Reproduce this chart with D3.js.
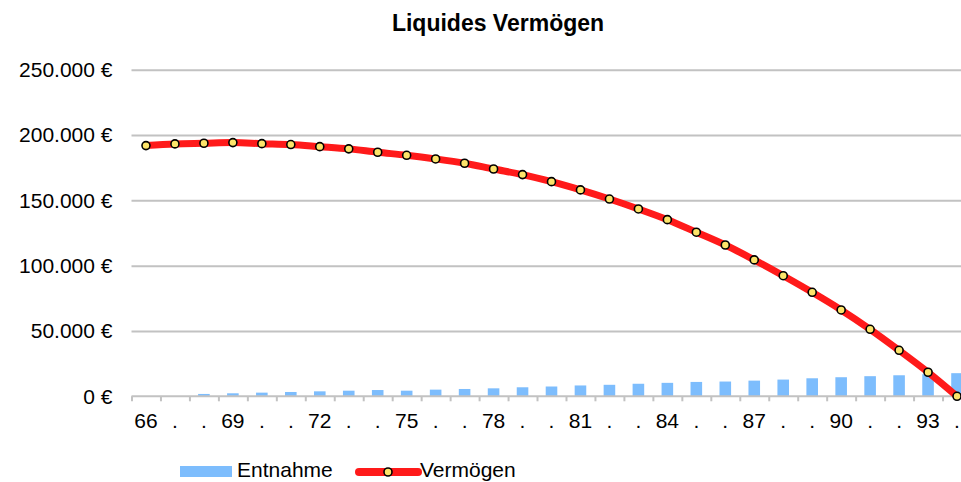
<!DOCTYPE html>
<html>
<head>
<meta charset="utf-8">
<title>Liquides Vermögen</title>
<script src="https://cdn.jsdelivr.net/npm/d3@7"></script>
<style>
 body { margin: 0; background: #fff; }
 svg text { font-family: "Liberation Sans", Arial, sans-serif; fill: #000; }
</style>
</head>
<body>
<svg id="chart" width="961" height="482"></svg>
<script>
// Alter (Jahre)
var jahre = [66, 67, 68, 69, 70, 71, 72, 73, 74, 75, 76, 77, 78, 79, 80,
             81, 82, 83, 84, 85, 86, 87, 88, 89, 90, 91, 92, 93, 94];
var jahrLabels = ["66", ".", ".", "69", ".", ".", "72", ".", ".", "75", ".", ".", "78", ".", ".",
                  "81", ".", ".", "84", ".", ".", "87", ".", ".", "90", ".", ".", "93", "."];
var entnahme = [0, 0, 1800, 2300, 2800, 3300, 3800, 4300, 4800, 4300, 5100, 5600, 6100, 6900, 7500,
                8300, 8800, 9600, 10300, 11000, 11300, 12000, 12800, 13800, 14600, 15400, 16100, 16900, 17700];
var vermoegen = [191900, 193200, 193700, 194200, 193400, 192700, 191100, 189400, 186800, 184500,
                 181700, 178400, 174000, 169700, 164300, 158000, 151000, 143400, 135200, 125600,
                 115800, 104400, 92300, 79600, 66100, 51300, 35200, 18400, 0];
var yTicks = [0, 50000, 100000, 150000, 200000, 250000];

var svg = d3.select("#chart");

var plotL = 131.5, plotR = 971.5, plotT = 69.7, plotB = 396.3;

var x = d3.scaleBand().domain(jahre).range([plotL, plotR]).paddingInner(0.6).paddingOuter(0.3);
var xEdge = d3.scaleLinear().domain([0, jahre.length]).range([plotL, plotR]);
var y = d3.scaleLinear().domain([0, 250000]).range([plotB, plotT]);

var de = d3.formatLocale({decimal: ",", thousands: ".", grouping: [3], currency: ["", " €"]});
var euro = de.format("$,");

// title
svg.append("text")
  .attr("x", 498).attr("y", 31)
  .attr("text-anchor", "middle")
  .style("font-size", "23px").style("font-weight", "bold")
  .text("Liquides Vermögen");

// grid + y labels
var yAxis = svg.append("g")
  .attr("transform", "translate(" + plotL + ",0)")
  .call(d3.axisLeft(y).tickValues(yTicks).tickFormat(euro).tickSize(-(plotR - plotL)).tickPadding(19));
yAxis.select(".domain").remove();
yAxis.selectAll(".tick line").attr("stroke", "#c2c2c2").attr("stroke-width", 2);
yAxis.selectAll(".tick line").filter(function(d) { return d === 0; }).remove();
yAxis.selectAll("text").style("font-size", "21px").style("font-family", "'Liberation Sans', Arial, sans-serif");

// bars
svg.append("g").selectAll("rect")
  .data(entnahme)
  .enter().append("rect")
  .attr("x", function(d, i) { return x(jahre[i]); })
  .attr("width", x.bandwidth())
  .attr("y", function(d) { return y(d); })
  .attr("height", function(d) { return y(0) - y(d); })
  .attr("fill", "#7dbdfd");

// x axis
var xAxis = svg.append("g")
  .attr("transform", "translate(0," + plotB + ")")
  .call(d3.axisBottom(xEdge).tickValues(d3.range(0, jahre.length + 1)).tickFormat("").tickSize(5));
xAxis.select(".domain").attr("stroke", "#c2c2c2").attr("stroke-width", 2).attr("d", "M" + plotL + ",0H" + plotR);
xAxis.selectAll(".tick line").attr("stroke", "#c2c2c2").attr("stroke-width", 2);

svg.append("g").selectAll("text")
  .data(jahrLabels)
  .enter().append("text")
  .attr("x", function(d, i) { return x(jahre[i]) + x.bandwidth() / 2; })
  .attr("y", 428)
  .attr("text-anchor", "middle")
  .style("font-size", "21px")
  .text(function(d) { return d; });

// line
var line = d3.line()
  .x(function(d, i) { return x(jahre[i]) + x.bandwidth() / 2; })
  .y(function(d) { return y(d); })
  .curve(d3.curveCatmullRom.alpha(0.5));

svg.append("path")
  .datum(vermoegen)
  .attr("d", line)
  .attr("fill", "none")
  .attr("stroke", "#ff1a1a")
  .attr("stroke-width", 7);

svg.append("g").selectAll("circle")
  .data(vermoegen)
  .enter().append("circle")
  .attr("cx", function(d, i) { return x(jahre[i]) + x.bandwidth() / 2; })
  .attr("cy", function(d) { return y(d); })
  .attr("r", 4)
  .attr("fill", "#fde46a")
  .attr("stroke", "#000")
  .attr("stroke-width", 1.6);

// legend
var lg = svg.append("g");
lg.append("rect").attr("x", 180).attr("y", 466).attr("width", 52).attr("height", 11).attr("fill", "#7dbdfd");
lg.append("text").attr("x", 237).attr("y", 477).style("font-size", "21px").text("Entnahme");
lg.append("line").attr("x1", 359).attr("x2", 418).attr("y1", 472).attr("y2", 472)
  .attr("stroke", "#ff1a1a").attr("stroke-width", 8).attr("stroke-linecap", "round");
lg.append("circle").attr("cx", 388).attr("cy", 472).attr("r", 4)
  .attr("fill", "#fde46a").attr("stroke", "#000").attr("stroke-width", 1.6);
lg.append("text").attr("x", 420).attr("y", 477).style("font-size", "21px").text("Vermögen");
</script>
</body>
</html>
